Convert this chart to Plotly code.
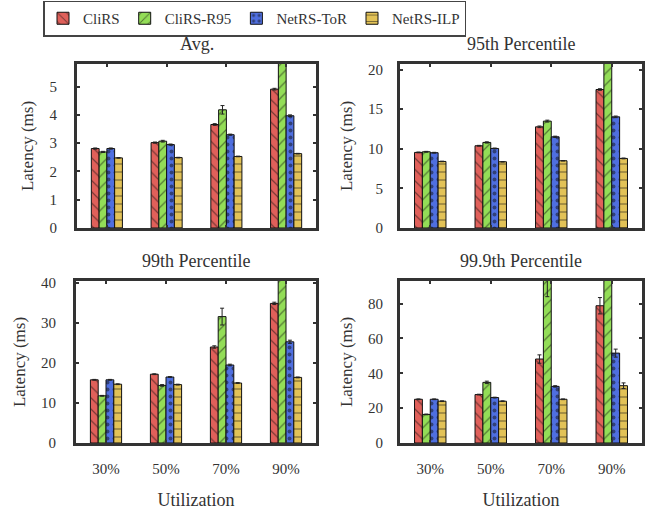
import plotly.graph_objects as go

categories = ["30%", "50%", "70%", "90%"]
series_names = ["CliRS", "CliRS-R95", "NetRS-ToR", "NetRS-ILP"]

# Avg. latency (ms)
avg_clirs = [2.81, 3.02, 3.66, 4.91]
avg_r95 = [2.69, 3.07, 4.18, 6.5]
avg_tor = [2.81, 2.95, 3.30, 3.97]
avg_ilp = [2.48, 2.49, 2.53, 2.63]
avg_err_clirs = [0.02, 0.02, 0.03, 0.03]
avg_err_r95 = [0.02, 0.03, 0.15, 0.1]
avg_err_tor = [0.02, 0.02, 0.02, 0.03]
avg_err_ilp = [0.01, 0.01, 0.01, 0.01]

# 95th percentile (ms)
p95_clirs = [9.54, 10.38, 12.77, 17.48]
p95_r95 = [9.62, 10.8, 13.49, 22.0]
p95_tor = [9.50, 10.04, 11.51, 14.03]
p95_ilp = [8.40, 8.36, 8.49, 8.78]
p95_err_clirs = [0.05, 0.05, 0.1, 0.1]
p95_err_r95 = [0.05, 0.08, 0.12, 0.2]
p95_err_tor = [0.05, 0.05, 0.08, 0.1]
p95_err_ilp = [0.03, 0.03, 0.03, 0.05]

# 99th percentile (ms)
p99_clirs = [15.8, 17.2, 24.0, 34.9]
p99_r95 = [11.8, 14.4, 31.6, 45.0]
p99_tor = [15.8, 16.5, 19.5, 25.3]
p99_ilp = [14.7, 14.6, 15.0, 16.4]
p99_err_clirs = [0.1, 0.1, 0.3, 0.3]
p99_err_r95 = [0.1, 0.2, 2.1, 1.0]
p99_err_tor = [0.1, 0.1, 0.2, 0.4]
p99_err_ilp = [0.1, 0.1, 0.1, 0.1]

# 99.9th percentile (ms)
p999_clirs = [25.1, 27.8, 48.2, 78.8]
p999_r95 = [16.4, 34.8, 94.0, 110.0]
p999_tor = [25.1, 26.1, 32.5, 51.6]
p999_ilp = [24.0, 24.0, 25.1, 32.9]
p999_err_clirs = [0.2, 0.2, 2.4, 4.7]
p999_err_r95 = [0.2, 0.7, 10.0, 5.0]
p999_err_tor = [0.2, 0.2, 0.4, 2.3]
p999_err_ilp = [0.2, 0.2, 0.2, 1.6]

panel_titles = ["Avg.", "95th Percentile", "99th Percentile", "99.9th Percentile"]
y_ranges = [[0, 5.8], [0, 20.7], [0, 40.5], [0, 93]]
y_dticks = [1, 5, 10, 20]

colors = ["#e0605a", "#93dd57", "#4f6fe0", "#e2c257"]
shapes = ["\\", "/", ".", "-"]

panels = [
    ([avg_clirs, avg_r95, avg_tor, avg_ilp], [avg_err_clirs, avg_err_r95, avg_err_tor, avg_err_ilp]),
    ([p95_clirs, p95_r95, p95_tor, p95_ilp], [p95_err_clirs, p95_err_r95, p95_err_tor, p95_err_ilp]),
    ([p99_clirs, p99_r95, p99_tor, p99_ilp], [p99_err_clirs, p99_err_r95, p99_err_tor, p99_err_ilp]),
    ([p999_clirs, p999_r95, p999_tor, p999_ilp], [p999_err_clirs, p999_err_r95, p999_err_tor, p999_err_ilp]),
]

W, H = 652, 510
# pixel boxes in window coords (x0, x1, ytop, ybottom)
boxes = [(77, 316, 64, 228), (400, 642, 64, 228), (76, 316, 281, 443), (400, 642, 281, 443)]


def px(x):
    return x / W


def py(y):
    return 1 - y / H


FONT = "Liberation Serif"
TXT = "#333"
fig = go.Figure()

for p, (vals, errs) in enumerate(panels):
    ax = "" if p == 0 else str(p + 1)
    for s in range(4):
        fig.add_trace(go.Bar(
            x=categories, y=vals[s], name=series_names[s],
            xaxis="x" + ax, yaxis="y" + ax,
            showlegend=(p == 0), legendgroup=series_names[s],
            marker=dict(color=colors[s], line=dict(color="#111", width=1),
                        pattern=dict(shape=shapes[s], fgcolor="#111", fillmode="overlay",
                                     size=8 if s != 2 else 7, solidity=0.15 if s != 2 else 0.25)),
            error_y=dict(type="data", array=errs[s], color="#222", thickness=1, width=2),
        ))

layout = dict(
    width=W, height=H, margin=dict(l=0, r=0, t=0, b=0, autoexpand=False),
    paper_bgcolor="white", plot_bgcolor="white",
    barmode="group", bargap=0.48, bargroupgap=0,
    font=dict(family=FONT, size=15, color=TXT),
    legend=dict(orientation="h", x=px(43), y=py(0.5), xanchor="left", yanchor="top",
                bordercolor="#444", borderwidth=1.5, bgcolor="white",
                font=dict(family=FONT, size=15, color=TXT),
                itemwidth=30, tracegroupgap=0),
    annotations=[],
)

for p in range(4):
    x0, x1, yt, yb = boxes[p]
    ax = "" if p == 0 else str(p + 1)
    xa = dict(domain=[px(x0), px(x1)], anchor="y" + ax, type="category",
              range=[-0.5, 3.5], showline=True, mirror="ticks", linecolor="#333", linewidth=3,
              ticks="inside", ticklen=3, tickcolor="#333", tickwidth=1.5,
              showticklabels=(p >= 2), tickfont=dict(size=15), showgrid=False,
              ticklabelstandoff=10)
    ya = dict(domain=[py(yb), py(yt)], anchor="x" + ax, range=y_ranges[p],
              dtick=y_dticks[p], showline=True, mirror="ticks", linecolor="#333", linewidth=3,
              ticks="inside", ticklen=3, tickcolor="#333", tickwidth=1.5,
              tickfont=dict(size=15), showgrid=False, zeroline=False,
              ticklabelstandoff=14 if p % 2 == 0 else 11,
              title=dict(text="Latency (ms)", font=dict(size=17), standoff=12))
    if p >= 2:
        xa["title"] = dict(text="Utilization", font=dict(size=18), standoff=21)
    layout["xaxis" + ax] = xa
    layout["yaxis" + ax] = ya
    layout["annotations"].append(dict(
        text=panel_titles[p], x=px((x0 + x1) / 2), y=py(yt - 8),
        xref="paper", yref="paper", xanchor="center", yanchor="bottom",
        showarrow=False, font=dict(family=FONT, size=18, color=TXT)))

fig.update_layout(**layout)
# remove the browser's default 8px page margin so the figure sits at the window origin
fig.write_html("out.html", config={"displayModeBar": False},
               post_script="document.body.style.margin='0';")
